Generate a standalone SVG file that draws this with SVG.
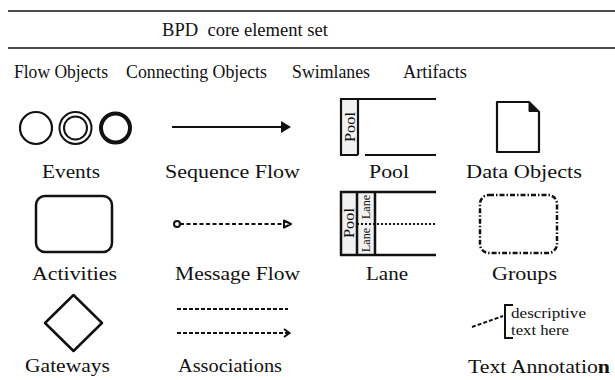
<svg xmlns="http://www.w3.org/2000/svg" width="615" height="380" viewBox="0 0 615 380" font-family="'Liberation Serif', 'DejaVu Serif', serif">
<style>
text{font-family:'Liberation Serif','DejaVu Serif',serif;fill:#111}
.h{font-size:18px}
.l{font-size:18px}
.s{stroke:#111;fill:none;stroke-linecap:butt}
.col{fill:#f1f1f1}
</style>
<rect width="615" height="380" fill="#fff"/>
<g id="header">
<line x1="8" y1="11" x2="615" y2="11" class="s" stroke-width="1.5"/>
<line x1="8" y1="48" x2="615" y2="48" class="s" stroke-width="1.5"/>
<text x="162" y="36" class="h" xml:space="preserve" textLength="166" lengthAdjust="spacingAndGlyphs">BPD  core element set</text>
<text x="14" y="78" class="h" textLength="94" lengthAdjust="spacingAndGlyphs">Flow Objects</text>
<text x="126" y="78" class="h" textLength="141" lengthAdjust="spacingAndGlyphs">Connecting Objects</text>
<text x="292" y="78" class="h" textLength="78" lengthAdjust="spacingAndGlyphs">Swimlanes</text>
<text x="403" y="78" class="h" textLength="64" lengthAdjust="spacingAndGlyphs">Artifacts</text>
</g>
<g id="events">
<circle cx="36" cy="128" r="16" class="s" stroke-width="2.2"/>
<circle cx="75.5" cy="128" r="16" class="s" stroke-width="2"/>
<circle cx="75.5" cy="128" r="11.5" class="s" stroke-width="2"/>
<circle cx="115.5" cy="128" r="14.5" class="s" stroke-width="4"/>
<text x="42" y="178" class="l" textLength="58" lengthAdjust="spacingAndGlyphs">Events</text>
</g>
<g id="activities">
<rect x="36" y="196" width="76" height="56" rx="9" class="s" stroke-width="2.5"/>
<text x="32" y="280" class="l" textLength="85" lengthAdjust="spacingAndGlyphs">Activities</text>
</g>
<g id="gateways">
<polygon points="73.5,295 102,323 73.5,351 45,323" class="s" stroke-width="2.5" stroke-linejoin="round"/>
<text x="25" y="372" class="l" textLength="85" lengthAdjust="spacingAndGlyphs">Gateways</text>
</g>
<g id="connectors">
<g id="sequence-flow">
<line x1="172" y1="127" x2="283" y2="127" class="s" stroke-width="2"/>
<polygon points="281,121 291,127 281,133" fill="#111"/>
</g>
<g id="message-flow">
<line x1="180" y1="224" x2="284" y2="224" class="s" stroke-width="2" stroke-dasharray="4 2.5"/>
<circle cx="177" cy="224" r="3" fill="#fff" stroke="#111" stroke-width="2"/>
<polygon points="284,220.5 291,224 284,227.5" fill="#fff" stroke="#111" stroke-width="2" stroke-linejoin="round"/>
</g>
<g id="associations">
<line x1="177" y1="309" x2="288" y2="309" class="s" stroke-width="1.8" stroke-dasharray="4 2"/>
<line x1="177" y1="333" x2="289" y2="333" class="s" stroke-width="1.8" stroke-dasharray="4 2"/>
<polyline points="284,329 289.5,333 284,337" class="s" stroke-width="2"/>
</g>
</g>
<g id="connector-labels">
<text x="165" y="178" class="l" textLength="135" lengthAdjust="spacingAndGlyphs">Sequence Flow</text>
<text x="175" y="280" class="l" textLength="125" lengthAdjust="spacingAndGlyphs">Message Flow</text>
<text x="178" y="372" class="l" textLength="104" lengthAdjust="spacingAndGlyphs">Associations</text>
</g>
<g id="pool">
<rect x="341" y="99" width="17" height="56" class="col"/>
<path d="M436,99 H341 V155 H358 M358,99 V155 M365,155 H436" class="s" stroke-width="2.2"/>
<text transform="translate(355,127) rotate(-90)" text-anchor="middle" font-size="15" textLength="30" lengthAdjust="spacingAndGlyphs">Pool</text>
<text x="369" y="178" class="l" textLength="40" lengthAdjust="spacingAndGlyphs">Pool</text>
</g>
<g id="lane">
<rect x="341" y="192" width="34" height="63" class="col"/>
<line x1="357" y1="224" x2="436" y2="224" class="s" stroke-width="2" stroke-dasharray="2 2"/>
<path d="M436,192 H341 V255 H436 M357,192 V255 M375,192 V255" class="s" stroke-width="2.5"/>
<text transform="translate(354,223) rotate(-90)" text-anchor="middle" font-size="15" textLength="30" lengthAdjust="spacingAndGlyphs">Pool</text>
<text transform="translate(370,207) rotate(-90)" text-anchor="middle" font-size="11.5" textLength="24" lengthAdjust="spacingAndGlyphs">Lane</text>
<text transform="translate(370,240) rotate(-90)" text-anchor="middle" font-size="11.5" textLength="24" lengthAdjust="spacingAndGlyphs">Lane</text>
<text x="366" y="280" class="l" textLength="42" lengthAdjust="spacingAndGlyphs">Lane</text>
</g>
<g id="data-objects">
<path d="M497,102 H529 L539,112 V152 H497 Z" class="s" stroke-width="2.2" stroke-linejoin="round"/>
<polygon points="529,102 529,111.5 538.5,111.5" fill="#111" stroke="#111" stroke-width="1" stroke-linejoin="round"/>
<text x="466" y="178" class="l" textLength="116" lengthAdjust="spacingAndGlyphs">Data Objects</text>
</g>
<g id="groups">
<rect x="480" y="195" width="77" height="58" rx="9" class="s" stroke-width="2.5" stroke-dasharray="5 2 1.5 2"/>
<text x="492" y="280" class="l" textLength="65" lengthAdjust="spacingAndGlyphs">Groups</text>
</g>
<g id="text-annotation">
<line x1="472" y1="327" x2="503" y2="316" class="s" stroke-width="2" stroke-dasharray="4 2"/>
<path d="M513,305 H505 V338 H513" class="s" stroke-width="2"/>
<text x="511" y="318" font-size="14.5" textLength="75" lengthAdjust="spacingAndGlyphs">descriptive</text>
<text x="511" y="335" font-size="14.5" textLength="58" lengthAdjust="spacingAndGlyphs">text here</text>
<text x="468" y="373" class="l" textLength="142" lengthAdjust="spacingAndGlyphs">Text Annotatio<tspan font-weight="bold">n</tspan></text>
</g>
</svg>
